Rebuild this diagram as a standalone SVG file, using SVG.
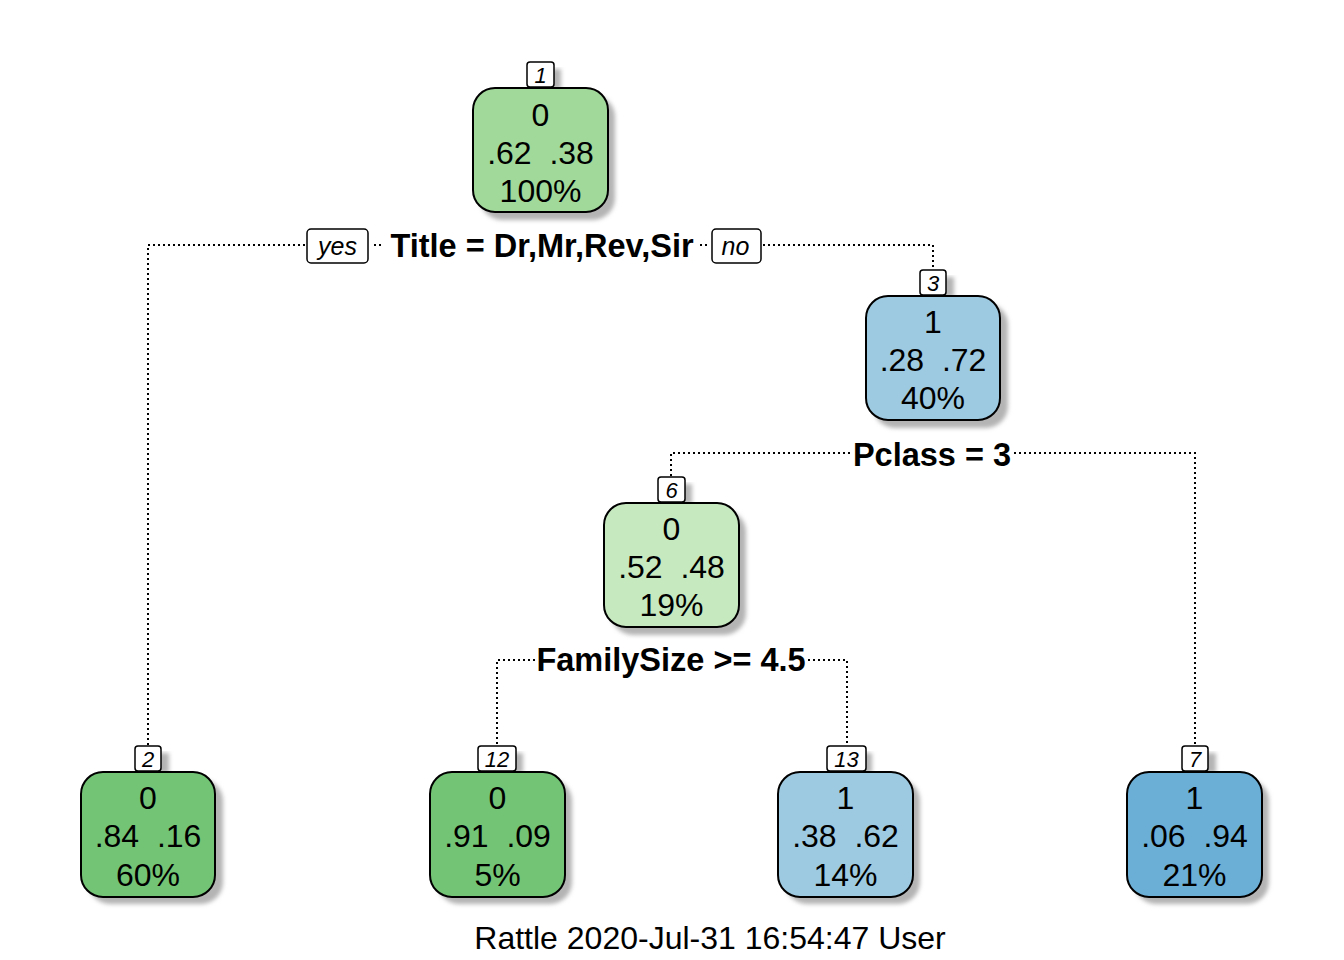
<svg xmlns="http://www.w3.org/2000/svg" width="1344" height="960" viewBox="0 0 1344 960" xml:space="preserve">
<defs>
<filter id="blur" x="-10%" y="-10%" width="130%" height="130%"><feGaussianBlur stdDeviation="2"/></filter>
<style>
.sh{fill:#b4b4b4;filter:url(#blur);}
.box{stroke:#000;stroke-width:2;}
.lab{fill:#fff;stroke:#000;stroke-width:1.5;}
.t{font-family:"Liberation Sans",Arial,sans-serif;font-size:32px;text-anchor:middle;fill:#000;white-space:pre;}
.n{font-family:"Liberation Sans",Arial,sans-serif;font-size:22px;font-style:italic;text-anchor:middle;fill:#000;}
.s{font-family:"Liberation Sans",Arial,sans-serif;font-size:32.5px;font-weight:bold;text-anchor:middle;fill:#000;}
.yn{font-family:"Liberation Sans",Arial,sans-serif;font-size:25px;font-style:italic;text-anchor:middle;fill:#000;}
.c{fill:none;stroke:#000;stroke-width:2;stroke-dasharray:2 3;}
</style>
</defs>
<rect width="1344" height="960" fill="#fff"/>
<g id="connectors">
<polyline class="c" points="305,245 148,245 148,746"/>
<polyline class="c" points="374,245 384,245"/>
<polyline class="c" points="700,245 710,245"/>
<polyline class="c" points="763,245 933,245 933,270"/>
<polyline class="c" points="850,453 671,453 671,477"/>
<polyline class="c" points="1014,453 1195,453 1195,746"/>
<polyline class="c" points="535,660 497,660 497,746"/>
<polyline class="c" points="808,660 847,660 847,746"/>
</g>
<g id="split1">
<rect class="lab" x="307" y="229" width="61" height="34" rx="4"/>
<text class="yn" x="337.5" y="255">yes</text>
<rect class="lab" x="712" y="229" width="49" height="34" rx="4"/>
<text class="yn" x="735.5" y="255">no</text>
<text class="s" x="542" y="257">Title = Dr,Mr,Rev,Sir</text>
</g>
<g id="split3"><text class="s" x="932" y="466">Pclass = 3</text></g>
<g id="split6"><text class="s" x="671" y="671">FamilySize &gt;= 4.5</text></g>

<g id="node1">
<rect class="sh" x="480" y="95" width="135" height="125" rx="22"/>
<rect class="sh" x="534" y="69" width="27" height="20"/>
<rect class="box" x="473" y="88" width="135" height="124" rx="22" fill="#a1d99b"/>
<rect class="lab" x="527" y="62" width="27" height="25" rx="3"/>
<text class="n" x="540.5" y="83">1</text>
<text class="t" x="540.5" y="126">0</text>
<text class="t" x="540.5" y="164">.62  .38</text>
<text class="t" x="540.5" y="202">100%</text>
</g>
<g id="node3">
<rect class="sh" x="873" y="303" width="135" height="125" rx="22"/>
<rect class="sh" x="927" y="277" width="27" height="20"/>
<rect class="box" x="866" y="296" width="134" height="124" rx="22" fill="#9ecae1"/>
<rect class="lab" x="920" y="270" width="26" height="25" rx="3"/>
<text class="n" x="933" y="291">3</text>
<text class="t" x="933" y="333">1</text>
<text class="t" x="933" y="371">.28  .72</text>
<text class="t" x="933" y="409">40%</text>
</g>
<g id="node6">
<rect class="sh" x="611" y="510" width="135" height="125" rx="22"/>
<rect class="sh" x="665" y="484" width="27" height="20"/>
<rect class="box" x="604" y="503" width="135" height="124" rx="22" fill="#c7e9c0"/>
<rect class="lab" x="658" y="477" width="27" height="25" rx="3"/>
<text class="n" x="671.5" y="498">6</text>
<text class="t" x="671.5" y="540">0</text>
<text class="t" x="671.5" y="578">.52  .48</text>
<text class="t" x="671.5" y="616">19%</text>
</g>
<g id="node2">
<rect class="sh" x="88" y="779" width="135" height="125" rx="22"/>
<rect class="sh" x="142" y="753" width="27" height="20"/>
<rect class="box" x="81" y="772" width="134" height="125" rx="22" fill="#74c476"/>
<rect class="lab" x="135" y="746" width="26" height="25" rx="3"/>
<text class="n" x="148" y="767">2</text>
<text class="t" x="148" y="809">0</text>
<text class="t" x="148" y="847">.84  .16</text>
<text class="t" x="148" y="886">60%</text>
</g>
<g id="node12">
<rect class="sh" x="437" y="779" width="135" height="125" rx="22"/>
<rect class="sh" x="485" y="753" width="38" height="20"/>
<rect class="box" x="430" y="772" width="135" height="125" rx="22" fill="#74c476"/>
<rect class="lab" x="478" y="746" width="38" height="25" rx="3"/>
<text class="n" x="497" y="767">12</text>
<text class="t" x="497.5" y="809">0</text>
<text class="t" x="497.5" y="847">.91  .09</text>
<text class="t" x="497.5" y="886">5%</text>
</g>
<g id="node13">
<rect class="sh" x="785" y="779" width="135" height="125" rx="22"/>
<rect class="sh" x="834" y="753" width="38" height="20"/>
<rect class="box" x="778" y="772" width="135" height="125" rx="22" fill="#9ecae1"/>
<rect class="lab" x="827" y="746" width="39" height="25" rx="3"/>
<text class="n" x="846.5" y="767">13</text>
<text class="t" x="845.5" y="809">1</text>
<text class="t" x="845.5" y="847">.38  .62</text>
<text class="t" x="845.5" y="886">14%</text>
</g>
<g id="node7">
<rect class="sh" x="1134" y="779" width="135" height="125" rx="22"/>
<rect class="sh" x="1189" y="753" width="27" height="20"/>
<rect class="box" x="1127" y="772" width="135" height="125" rx="22" fill="#6baed6"/>
<rect class="lab" x="1182" y="746" width="26" height="25" rx="3"/>
<text class="n" x="1195" y="767">7</text>
<text class="t" x="1194.5" y="809">1</text>
<text class="t" x="1194.5" y="847">.06  .94</text>
<text class="t" x="1194.5" y="886">21%</text>
</g>
<text id="footer" class="t" x="710" y="949" style="font-size:32px">Rattle 2020-Jul-31 16:54:47 User</text>
</svg>
